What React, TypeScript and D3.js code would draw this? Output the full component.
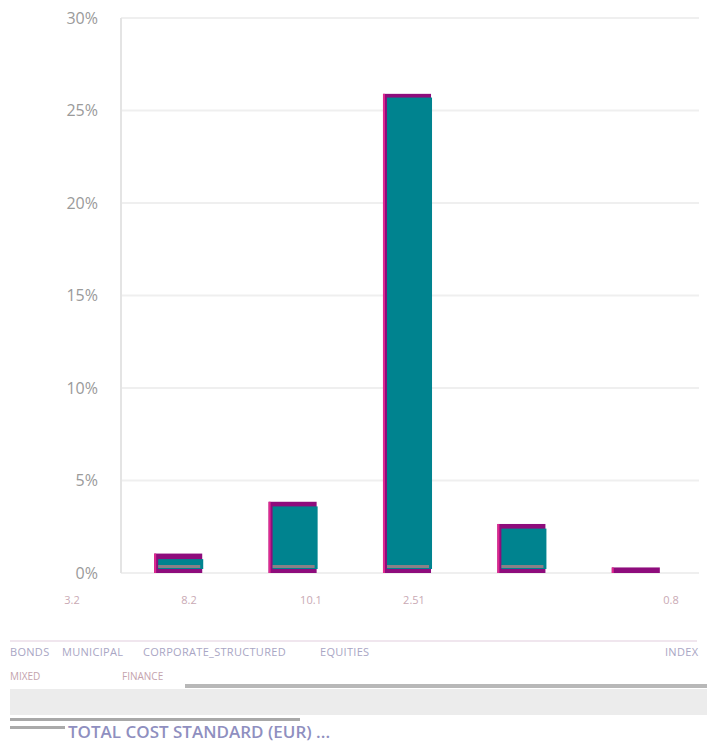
import React from "react";
import * as d3 from "d3";

const categories = ["BONDS", "MUNICIPAL", "CORPORATE_STRUCTURED", "EQUITIES", "INDEX"];
const totalShare = [1.05, 3.85, 25.9, 2.65, 0.3];
const innerShare = [0.75, 3.6, 25.7, 2.4, 0.0];
const yTicks = [0, 5, 10, 15, 20, 25, 30];
const subLabels = ["3.2", "8.2", "10.1", "2.51", "0.8"];
const secondRow = ["MIXED", "FINANCE"];
const footer = "TOTAL COST STANDARD (EUR) ...";

const W = 707;
const H = 743;
const M = { left: 121, right: 14, top: 18, bottom: 170 };

export default function App() {
  const x = d3
    .scaleBand<string>()
    .domain(categories)
    .range([M.left, W - M.right])
    .paddingInner(0.58)
    .paddingOuter(0.29);
  const y = d3.scaleLinear().domain([0, 30]).range([H - M.bottom, M.top]);
  const legendX = [10, 62, 143, 320, 665];
  const subX = [72, 189, 311, 414, 671];
  return (
    <svg width={W} height={H} style={{ position: "absolute", left: 0, top: 0, fontFamily: "Open Sans, sans-serif" }}>
      <rect x={0} y={0} width={W} height={H} fill="#fff" />
      {yTicks.map((t) => (
        <g key={t}>
          <line x1={M.left} x2={W - 8} y1={y(t)} y2={y(t)} stroke="#efefef" strokeWidth={2} />
          <text x={98} y={y(t)} dy="0.35em" textAnchor="end" fontSize={16} fill="#9a9a9a">
            {t}%
          </text>
        </g>
      ))}
      <line x1={M.left} x2={M.left} y1={M.top} y2={y(0)} stroke="#e4e4e4" strokeWidth={2} />
      {categories.map((c, i) => {
        const bx = x(c)!;
        const bw = x.bandwidth();
        const top = y(totalShare[i]);
        const itop = y(innerShare[i]);
        return (
          <g key={c}>
            <rect x={bx} y={top} width={bw} height={y(0) - top} fill="#8e0c7c" />
            <rect x={bx} y={top} width={2} height={y(0) - top} fill="#e0288f" />
            {innerShare[i] > 0 && (
              <rect x={bx + 4} y={itop} width={bw - 3} height={y(0) - itop - 4} fill="#00838f" />
            )}
            {innerShare[i] > 0 && (
              <rect x={bx + 4} y={y(0) - 8} width={bw - 6} height={3} fill="#8a7f86" />
            )}
          </g>
        );
      })}
      {subLabels.map((s, i) => (
        <text key={i} x={subX[i]} y={604} fontSize={11} fill="#c9a9b4" textAnchor="middle">
          {s}
        </text>
      ))}
      {categories.map((c, i) => (
        <text key={c} x={legendX[i]} y={656} fontSize={11} fill="#a9a6c4" letterSpacing={0.3}>
          {c}
        </text>
      ))}
      <line x1={10} x2={697} y1={641} y2={641} stroke="#f0e6ee" strokeWidth={2} />
      {secondRow.map((s, i) => (
        <text key={s} x={i === 0 ? 10 : 122} y={680} fontSize={10} fill="#c4a3ad">
          {s}
        </text>
      ))}
      <rect x={185} y={684} width={522} height={4} fill="#b8b8b8" />
      <rect x={10} y={689} width={697} height={26} fill="#ececec" />
      <rect x={10} y={718} width={290} height={3} fill="#a8a8a8" />
      <rect x={10} y={726} width={55} height={3} fill="#aaaaaa" />
      <text x={68} y={738} fontSize={17} fontWeight={600} fill="#8f8fc0">
        {footer}
      </text>
    </svg>
  );
}
